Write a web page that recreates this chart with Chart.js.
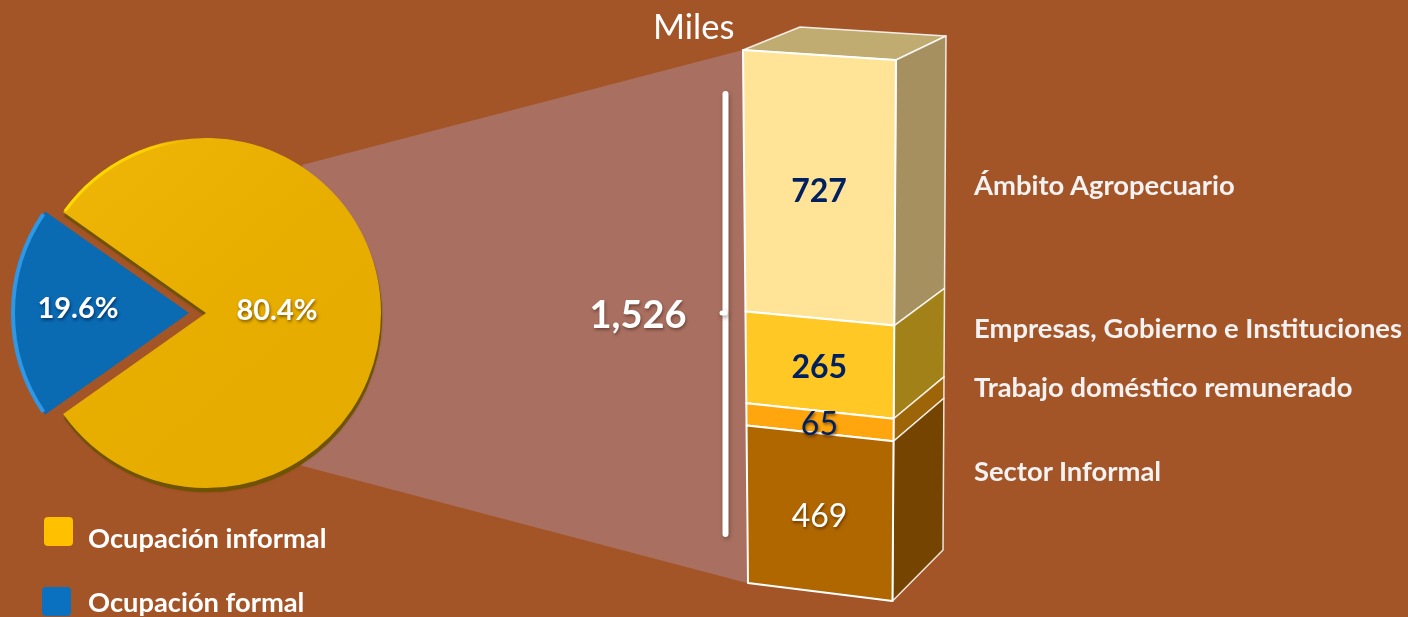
<!DOCTYPE html>
<html lang="es">
<head>
  <meta charset="utf-8" />
  <title>Ocupación informal</title>
  <script src="https://cdn.jsdelivr.net/npm/chart.js@4/dist/chart.umd.min.js"></script>
  <style>
    html, body { margin: 0; padding: 0; width: 1408px; height: 617px; overflow: hidden; background: #a45528; font-family: Lato, sans-serif; }
    canvas { position: absolute; }
    #stackChart { left: 0; top: 0; z-index: 1; }
    #pieChart { left: 6px; top: 113px; z-index: 2; }
    .txt { position: absolute; z-index: 3; white-space: nowrap; color: #fff; line-height: 1; }
    .side { font-weight: 700; font-size: 27.4px; color: #f2f2f2; left: 974px; }
    .leg { font-weight: 700; font-size: 27.3px; left: 88px; }
    .swatch { position: absolute; z-index: 3; width: 29px; height: 29px; border-radius: 4px; }
  </style>
</head>
<body>
  <canvas id="stackChart" width="1408" height="617"></canvas>
  <canvas id="pieChart" width="400" height="400"></canvas>
  <div class="txt" style="left:653px;top:9px;font-size:34.5px">Miles</div>
  <div id="labels"></div>

  <script>
    // chart values
    const pieLabels = ["Ocupación informal", "Ocupación formal"];
    const pieValues = [80.4, 19.6];
    const pieColors = ["#e8af00", "#0a6ab2"];
    const legendColors = ["#ffc000", "#0a70c0"];

    // stack goes bottom to top
    const stackLabels = ["Sector Informal", "Trabajo doméstico remunerado", "Empresas, Gobierno e Instituciones", "Ámbito Agropecuario"];
    const stackValues = [469, 65, 265, 727];
    const stackColors = ["#b16700", "#ffa60e", "#ffc824", "#ffe497"];
    const sideColors = ["#744400", "#9e6508", "#a38119", "#a69060"];
    const valueColors = ["#ffffff", "#002060", "#002060", "#002060"];
    const valueWeights = ["400", "400", "700", "700"];
    const totalLabel = "1,526";

    // where the text labels sit
    const sideLabelTops = [457, 373, 314, 171];
    const legendTops = [524, 588];
    const swatchPos = [[44, 517], [42, 587]];

    // corners of the drawn box: top left, top right, bottom right, bottom left
    const frontQuad = [[743, 50], [896, 60], [892.5, 601], [748, 583]];
    const backEdge = [[946, 36], [943, 550]];
    const topQuad = [[743, 50], [800, 27], [946, 36], [896, 60]];
    const funnel = [[302, 165], [743, 50], [747, 583], [299, 465]];

    // html labels
    let labelsHtml = "";
    stackLabels.forEach(function(name, i) {
      labelsHtml += '<div class="txt side" style="top:' + sideLabelTops[i] + 'px">' + name + '</div>';
    });
    pieLabels.forEach(function(name, i) {
      labelsHtml += '<div class="swatch" style="left:' + swatchPos[i][0] + 'px;top:' + swatchPos[i][1] + 'px;background:' + legendColors[i] + '"></div>';
      labelsHtml += '<div class="txt leg" style="top:' + legendTops[i] + 'px">' + name + '</div>';
    });
    document.getElementById("labels").innerHTML = labelsHtml;

    // unit square -> quad, so the stack keeps its perspective
    function makeWarp(q) {
      const dx1 = q[1][0] - q[2][0], dx2 = q[3][0] - q[2][0], sx = q[0][0] - q[1][0] + q[2][0] - q[3][0];
      const dy1 = q[1][1] - q[2][1], dy2 = q[3][1] - q[2][1], sy = q[0][1] - q[1][1] + q[2][1] - q[3][1];
      const den = dx1 * dy2 - dx2 * dy1;
      const g = (sx * dy2 - dx2 * sy) / den;
      const h = (dx1 * sy - sx * dy1) / den;
      const a = q[1][0] - q[0][0] + g * q[1][0], b = q[3][0] - q[0][0] + h * q[3][0];
      const d = q[1][1] - q[0][1] + g * q[1][1], e = q[3][1] - q[0][1] + h * q[3][1];
      return function(u, v) {
        const w = g * u + h * v + 1;
        return [(a * u + b * v + q[0][0]) / w, (d * u + e * v + q[0][1]) / w];
      };
    }

    function fillQuad(ctx, pts, fill, stroke, lineWidth) {
      ctx.beginPath();
      pts.forEach(function(p, i) { if (i == 0) ctx.moveTo(p[0], p[1]); else ctx.lineTo(p[0], p[1]); });
      ctx.closePath();
      ctx.fillStyle = fill;
      ctx.fill();
      if (stroke) {
        ctx.strokeStyle = stroke;
        ctx.lineWidth = lineWidth;
        ctx.lineJoin = "round";
        ctx.stroke();
      }
    }

    function shadowText(ctx, text, x, y, font, color, shadow) {
      ctx.save();
      ctx.font = font;
      ctx.textAlign = "center";
      ctx.textBaseline = "middle";
      ctx.fillStyle = color;
      ctx.shadowColor = shadow;
      ctx.shadowBlur = 3;
      ctx.shadowOffsetX = 1;
      ctx.shadowOffsetY = 2;
      ctx.fillText(text, x, y);
      ctx.restore();
    }

    const frontWarp = makeWarp(frontQuad);

    // back edge of the side face, same fraction of the height as the front edge
    function backPoint(v) {
      const p = frontWarp(1, v);
      const t = (p[1] - frontQuad[1][1]) / (frontQuad[2][1] - frontQuad[1][1]);
      return [backEdge[0][0] + (backEdge[1][0] - backEdge[0][0]) * t, backEdge[0][1] + (backEdge[1][1] - backEdge[0][1]) * t];
    }

    // funnel, bracket and box top go under the bars
    const boxBackdrop = {
      id: "boxBackdrop",
      beforeDatasetsDraw: function(chart) {
        const ctx = chart.ctx;
        fillQuad(ctx, funnel, "#a97061");

        // bracket with the total
        ctx.save();
        ctx.shadowColor = "rgba(60,30,20,0.45)";
        ctx.shadowBlur = 4;
        ctx.shadowOffsetX = 1;
        ctx.shadowOffsetY = 2;
        ctx.strokeStyle = "#ffffff";
        ctx.lineCap = "round";
        ctx.lineWidth = 6;
        ctx.beginPath();
        ctx.moveTo(725.5, 94);
        ctx.lineTo(725.5, 534);
        ctx.stroke();
        ctx.lineWidth = 5;
        ctx.beginPath();
        ctx.moveTo(722, 313);
        ctx.lineTo(725, 313);
        ctx.stroke();
        ctx.restore();
        shadowText(ctx, totalLabel, 638, 316, "700 38px Lato", "#ffffff", "rgba(60,30,20,0.5)");

        fillQuad(ctx, topQuad, "#c0ac70", "rgba(255,255,255,0.85)", 1.5);
      }
    };

    // draws each stacked bar warped on to the front and side faces
    const warpedBars = {
      id: "warpedBars",
      beforeDatasetDraw: function(chart, args) {
        const ctx = chart.ctx;
        const area = chart.chartArea;
        const bar = chart.getDatasetMeta(args.index).data[0];
        const v0 = (bar.y - area.top) / (area.bottom - area.top);
        const v1 = (bar.base - area.top) / (area.bottom - area.top);
        const i = args.index;

        fillQuad(ctx, [frontWarp(1, v0), backPoint(v0), backPoint(v1), frontWarp(1, v1)], sideColors[i], "rgba(255,255,255,0.85)", 1.5);
        fillQuad(ctx, [frontWarp(0, v0), frontWarp(1, v0), frontWarp(1, v1), frontWarp(0, v1)], stackColors[i], "#ffffff", 2);
        return false;
      },
      afterDatasetsDraw: function(chart) {
        const ctx = chart.ctx;
        const area = chart.chartArea;
        stackValues.forEach(function(val, i) {
          const bar = chart.getDatasetMeta(i).data[0];
          const vm = ((bar.y + bar.base) / 2 - area.top) / (area.bottom - area.top);
          const p = frontWarp(0.5, vm);
          const shadow = valueWeights[i] == "700" ? "rgba(0,0,0,0)" : "rgba(60,30,0,0.6)";
          shadowText(ctx, String(val), p[0], p[1] + 3, valueWeights[i] + " 32px Lato", valueColors[i], shadow);
        });
      }
    };

    new Chart(document.getElementById("stackChart"), {
      type: "bar",
      data: {
        labels: ["Miles"],
        datasets: stackValues.map(function(val, i) {
          return { label: stackLabels[i], data: [val], backgroundColor: stackColors[i] };
        })
      },
      options: {
        responsive: false,
        animation: false,
        devicePixelRatio: 1,
        layout: { padding: { left: 743, right: 1408 - 896, top: 50, bottom: 617 - 590 } },
        barPercentage: 1,
        categoryPercentage: 1,
        plugins: { legend: { display: false }, tooltip: { enabled: false } },
        scales: {
          x: { stacked: true, display: false },
          y: { stacked: true, display: false, min: 0, max: 1526 }
        }
      },
      plugins: [boxBackdrop, warpedBars]
    });

    // pie, with the bevel drawn behind and on the rim of each slice
    const pieBevel = {
      id: "pieBevel",
      beforeDatasetsDraw: function(chart) {
        const ctx = chart.ctx;
        const arc = chart.getDatasetMeta(0).data[0];
        ctx.save();
        ctx.translate(1, 4);
        ctx.shadowColor = "rgba(90,60,0,0.6)";
        ctx.shadowBlur = 2;
        ctx.beginPath();
        ctx.moveTo(arc.x, arc.y);
        ctx.arc(arc.x, arc.y, arc.outerRadius, arc.startAngle, arc.endAngle);
        ctx.closePath();
        ctx.fillStyle = "#6e5300";
        ctx.fill();
        ctx.restore();
      },
      afterDatasetsDraw: function(chart) {
        const ctx = chart.ctx;
        const arcs = chart.getDatasetMeta(0).data;

        // bright rim, top left of the yellow slice
        ctx.save();
        const rim = ctx.createLinearGradient(arcs[0].x - 140, 0, arcs[0].x - 20, 0);
        rim.addColorStop(0, "#ffdc00");
        rim.addColorStop(0.7, "#ffd000");
        rim.addColorStop(1, "rgba(255,208,0,0)");
        ctx.strokeStyle = rim;
        ctx.lineWidth = 3;
        ctx.beginPath();
        ctx.arc(arcs[0].x, arcs[0].y, arcs[0].outerRadius - 1, arcs[0].startAngle + 0.01, arcs[0].startAngle + 1.0);
        ctx.stroke();
        ctx.restore();

        // bright rim on the blue one
        const mid = (arcs[1].startAngle + arcs[1].endAngle) / 2;
        const off = arcs[1].options.offset / 4;
        ctx.save();
        ctx.translate(Math.cos(mid) * off, Math.sin(mid) * off);
        ctx.strokeStyle = "#2f98e6";
        ctx.lineWidth = 4;
        ctx.beginPath();
        ctx.arc(arcs[1].x, arcs[1].y, arcs[1].outerRadius + 1, arcs[1].startAngle + 0.02, arcs[1].endAngle - 0.02);
        ctx.stroke();
        ctx.restore();

        // percent labels
        shadowText(ctx, pieValues[0].toFixed(1) + "%", arcs[0].x + 71, arcs[0].y - 2, "700 29px Lato", "#ffffff", "rgba(70,40,0,0.6)");
        shadowText(ctx, pieValues[1].toFixed(1) + "%", arcs[0].x - 128, arcs[0].y - 4, "700 29px Lato", "#ffffff", "rgba(0,20,60,0.6)");
      }
    };

    const pieCtx = document.getElementById("pieChart").getContext("2d");
    const yellowFill = pieCtx.createLinearGradient(60, 40, 340, 360);
    yellowFill.addColorStop(0, "#efb608");
    yellowFill.addColorStop(0.5, "#e7ae00");
    yellowFill.addColorStop(1, "#e5ab00");

    new Chart(pieCtx, {
      type: "pie",
      data: {
        labels: pieLabels,
        datasets: [{
          data: pieValues,
          backgroundColor: [yellowFill, pieColors[1]],
          borderWidth: 0,
          offset: [0, 68]
        }]
      },
      options: {
        responsive: false,
        animation: false,
        devicePixelRatio: 1,
        radius: 175,
        rotation: 305.28,
        plugins: { legend: { display: false }, tooltip: { enabled: false } }
      },
      plugins: [pieBevel]
    });
  </script>
</body>
</html>
